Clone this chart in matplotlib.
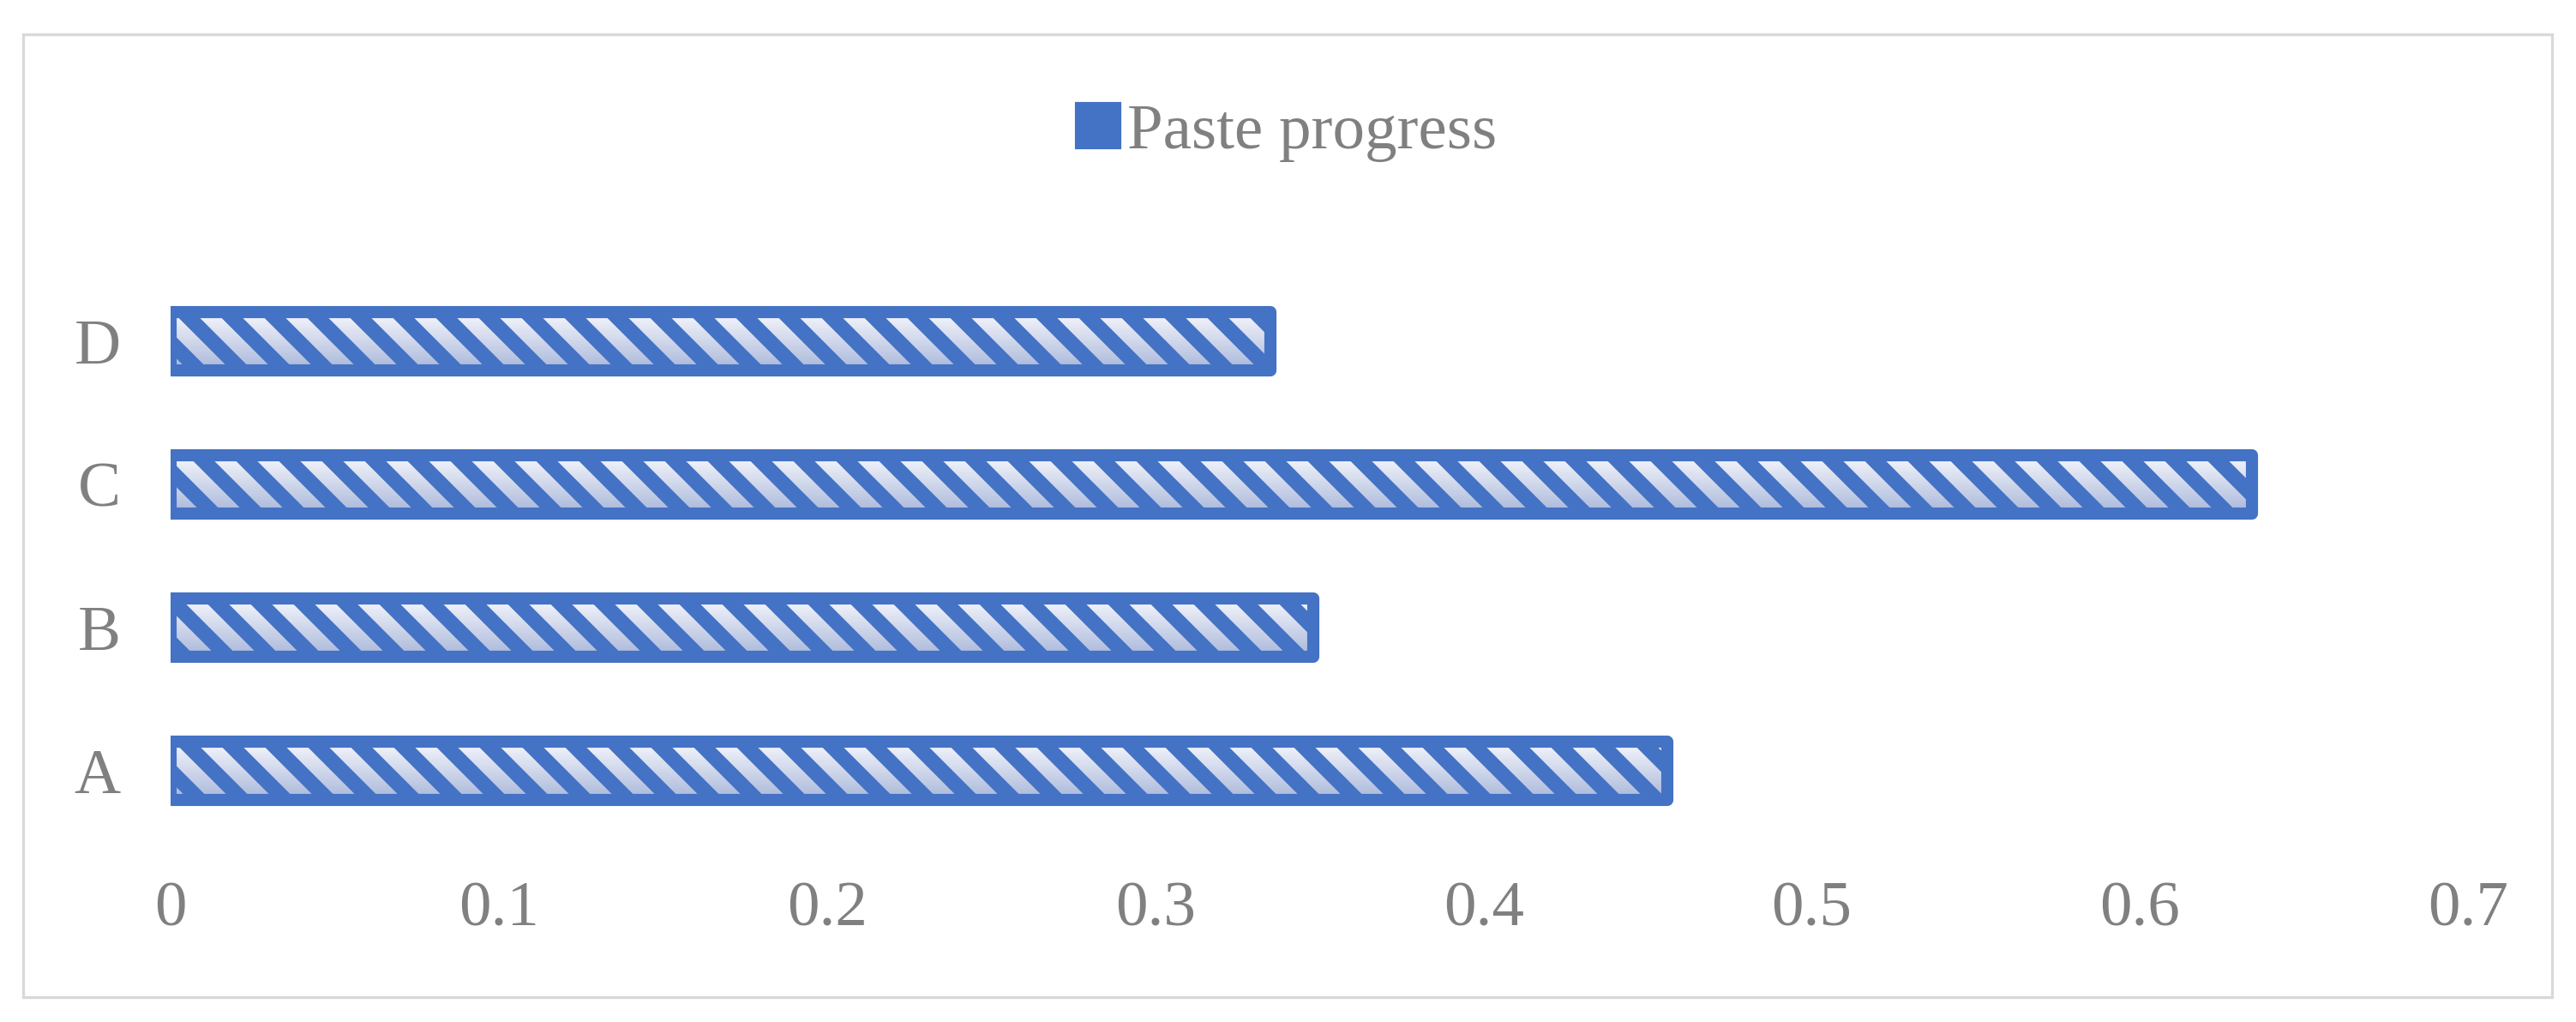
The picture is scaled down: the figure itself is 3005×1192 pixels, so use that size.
import matplotlib
matplotlib.use("Agg")
import matplotlib.pyplot as plt
import numpy as np
from matplotlib.patches import Patch, Rectangle
from matplotlib.colors import LinearSegmentedColormap

categories = ["A", "B", "C", "D"]
values = [0.456, 0.348, 0.634, 0.335]
series_name = "Paste progress"
xticks = [0, 0.1, 0.2, 0.3, 0.4, 0.5, 0.6, 0.7]
xticklabels = ["0", "0.1", "0.2", "0.3", "0.4", "0.5", "0.6", "0.7"]

BLUE = "#4472C4"
GRAY = "#808080"
plt.rcParams["font.family"] = ["Liberation Serif", "DejaVu Serif"]
plt.rcParams["hatch.linewidth"] = 4.2

DPI = 300
fig = plt.figure(figsize=(3005 / DPI, 1192 / DPI), dpi=DPI)
ax = fig.add_axes([0.0662, 0.176, 0.892, 0.560])

y = np.arange(len(categories))
bars = ax.barh(y, values, height=0.41, facecolor="none", edgecolor=BLUE,
               linewidth=3.4, hatch="\\\\", zorder=3)
cmap = LinearSegmentedColormap.from_list("g", ["#f7f8fd", "#a9b7da"])
grad = np.linspace(0, 1, 256).reshape(-1, 1)
for b in bars:
    b.set_joinstyle("round")
    x0, y0 = b.get_x(), b.get_y()
    w, h = b.get_width(), b.get_height()
    im = ax.imshow(grad, cmap=cmap, extent=[x0, x0 + w, y0, y0 + h],
                   origin="upper", aspect="auto", zorder=2, interpolation="bilinear")
    im.set_clip_path(b)

ax.set_xlim(0, 0.7)
ax.set_ylim(-0.5, 3.5)
ax.set_yticks(y)
ax.set_yticklabels(categories)
ax.set_xticks(xticks)
ax.set_xticklabels(xticklabels)
ax.tick_params(axis="both", length=0, labelsize=18, labelcolor=GRAY)
ax.tick_params(axis="y", pad=14)
ax.tick_params(axis="x", pad=11)
for s in ax.spines.values():
    s.set_visible(False)

handle = Patch(facecolor=BLUE, edgecolor=BLUE, joinstyle="round")
fig.legend([handle], [series_name], loc="center", bbox_to_anchor=(0.4996, 0.870),
           frameon=False, fontsize=18, labelcolor=GRAY, handlelength=0.66,
           handleheight=0.66, handletextpad=0.12)

border = Rectangle((27 / 3005, 1 - 1163 / 1192), (2977 - 27) / 3005, (1163 - 40) / 1192,
                   transform=fig.transFigure, facecolor="none", edgecolor="#d9d9d9",
                   linewidth=0.8)
fig.patches.append(border)

fig.savefig("out.png", dpi=DPI, facecolor="white")
